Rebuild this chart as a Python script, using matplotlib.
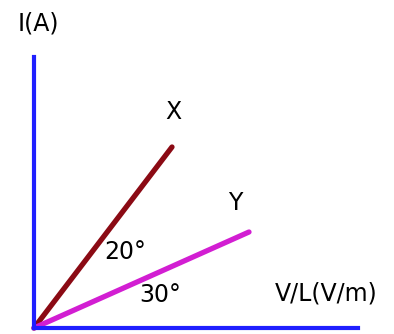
import matplotlib
matplotlib.use("Agg")
import matplotlib.pyplot as plt

# line endpoints (origin at the axes corner)
line_x = [0, 138]
line_x_i = [0, 181]
line_y = [0, 215]
line_y_i = [0, 96]

labels = ["X", "Y"]
angles = ["20°", "30°"]

fig = plt.figure(figsize=(3.94, 3.34), dpi=100)
ax = fig.add_axes([34 / 394, 6 / 334, 324 / 394, 271 / 334])
ax.set_xlim(0, 324)
ax.set_ylim(0, 271)

# axes drawn as thick blue spines
for side in ["top", "right"]:
    ax.spines[side].set_visible(False)
for side in ["left", "bottom"]:
    ax.spines[side].set_color("#1f1fff")
    ax.spines[side].set_linewidth(3)
ax.set_xticks([])
ax.set_yticks([])

ax.plot(line_x, line_x_i, color="#8b0a14", linewidth=3.8,
        solid_capstyle="round", clip_on=False)
ax.plot(line_y, line_y_i, color="#d21ed2", linewidth=3.8,
        solid_capstyle="round", clip_on=False)

fs = 17
ax.text(139, 216, labels[0], fontsize=fs, ha="center", va="center", clip_on=False)
ax.text(201, 125, labels[1], fontsize=fs, ha="center", va="center", clip_on=False)
ax.text(91, 76, angles[0], fontsize=fs, ha="center", va="center", clip_on=False)
ax.text(126, 33, angles[1], fontsize=fs, ha="center", va="center", clip_on=False)
ax.text(4, 304, "I(A)", fontsize=fs, ha="center", va="center", clip_on=False)
ax.text(292, 35, "V/L(V/m)", fontsize=fs, ha="center", va="center", clip_on=False)

fig.savefig("out.png", dpi=100)
